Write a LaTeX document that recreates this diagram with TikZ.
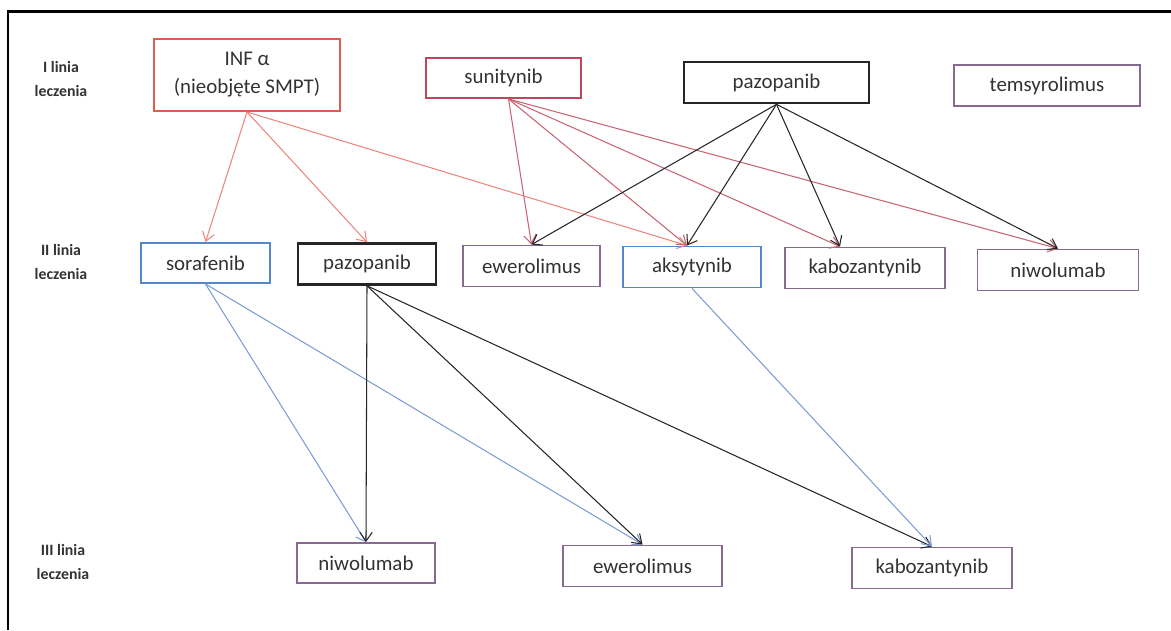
\documentclass[tikz,border=0pt]{standalone}
\usepackage{fontspec}
\setmainfont{Carlito}
\usetikzlibrary{arrows.meta}
\definecolor{infred}{RGB}{222,92,80}
\definecolor{infline}{RGB}{236,135,125}
\definecolor{sunred}{RGB}{190,70,95}
\definecolor{sunline}{RGB}{200,100,115}
\definecolor{purp}{RGB}{135,105,145}
\definecolor{blu}{RGB}{85,135,205}
\definecolor{bluline}{RGB}{125,155,212}
\definecolor{txt}{RGB}{50,50,50}
\begin{document}
\begin{tikzpicture}[%
      x=0.02cm,y=-0.02cm,
      box/.style={rectangle,draw,line width=1.1pt,align=center,text=txt,font=\fontsize{11.9}{16}\selectfont,minimum height=0.82cm,inner sep=0pt},
      redbox/.style={box,draw=infred},
      sunbox/.style={box,draw=sunred},
      blackbox/.style={box,draw=black!85,line width=1.5pt},
      purpbox/.style={box,draw=purp},
      bluebox/.style={box,draw=blu},
      lbl/.style={align=center,text=txt,font=\fontsize{9}{14}\selectfont\bfseries},
      arr/.style={-{Straight Barb[length=5pt,width=7pt]},line width=0.6pt}
      ]
      \useasboundingbox (0,0) rectangle (1171,630);
      \draw[line width=1.7pt] (8,630) -- (8,11) -- (1171,11);
      % row labels
      \draw (61,79) node[lbl] (l1) {I linia\\leczenia};
      \draw (61,262) node[lbl] (l2) {II linia\\leczenia};
      \draw (63,562) node[lbl] (l3) {III linia\\leczenia};
      % I linia
      \draw (247,75) node[redbox,minimum width=3.72cm,minimum height=1.44cm] (inf) {INF α\\(nieobjęte SMPT)};
      \draw (503.5,78) node[sunbox,minimum width=3.1cm,minimum height=0.8cm] (sun) {sunitynib};
      \draw (776.5,82.5) node[blackbox,minimum width=3.7cm] (pazo1) {pazopanib};
      \draw (1047,85.5) node[purpbox,minimum width=3.72cm] (tems) {temsyrolimus};
      % II linia
      \draw (205.5,263) node[bluebox,minimum width=2.58cm,minimum height=0.8cm] (sora) {sorafenib};
      \draw (367,264) node[blackbox,minimum width=2.76cm] (pazo2) {pazopanib};
      \draw (531.5,266) node[purpbox,minimum width=2.74cm] (ewe2) {ewerolimus};
      \draw (692,267) node[bluebox,minimum width=2.76cm] (aksy) {aksytynib};
      \draw (865,268) node[purpbox,minimum width=3.2cm] (kabo2) {kabozantynib};
      \draw (1058,270) node[purpbox,minimum width=3.22cm] (niwo2) {niwolumab};
      % III linia
      \draw (366,563) node[purpbox,minimum width=2.76cm,minimum height=0.8cm] (niwo3) {niwolumab};
      \draw (642.5,566) node[purpbox,minimum width=3.18cm] (ewe3) {ewerolimus};
      \draw (932,568) node[purpbox,minimum width=3.2cm] (kabo3) {kabozantynib};
      \coordinate (aksyin) at ([xshift=-0.1cm]aksy.north);
      \coordinate (kaboin) at ([xshift=-0.5cm]kabo2.north);
      % I -> II
      \foreach \t in {sora.north,pazo2.north,aksyin}
        \draw[arr,infline] (inf.south) -- (\t);
      \foreach \t in {ewe2.north,aksyin,kaboin,niwo2.north}
        \draw[arr,sunline] ([xshift=0.1cm]sun.south) -- (\t);
      \foreach \t in {ewe2.north,aksyin,kaboin,niwo2.north}
        \draw[arr,black!85] (pazo1.south) -- (\t);
      % II -> III
      \foreach \t in {niwo3,ewe3}
        \draw[arr,bluline] (sora.south) -- (\t.north);
      \foreach \t in {niwo3,ewe3,kabo3}
        \draw[arr,black!85] (pazo2.south) -- (\t.north);
      \draw[arr,bluline] (aksy.south) -- (kabo3.north);
    \end{tikzpicture}
\end{document}
